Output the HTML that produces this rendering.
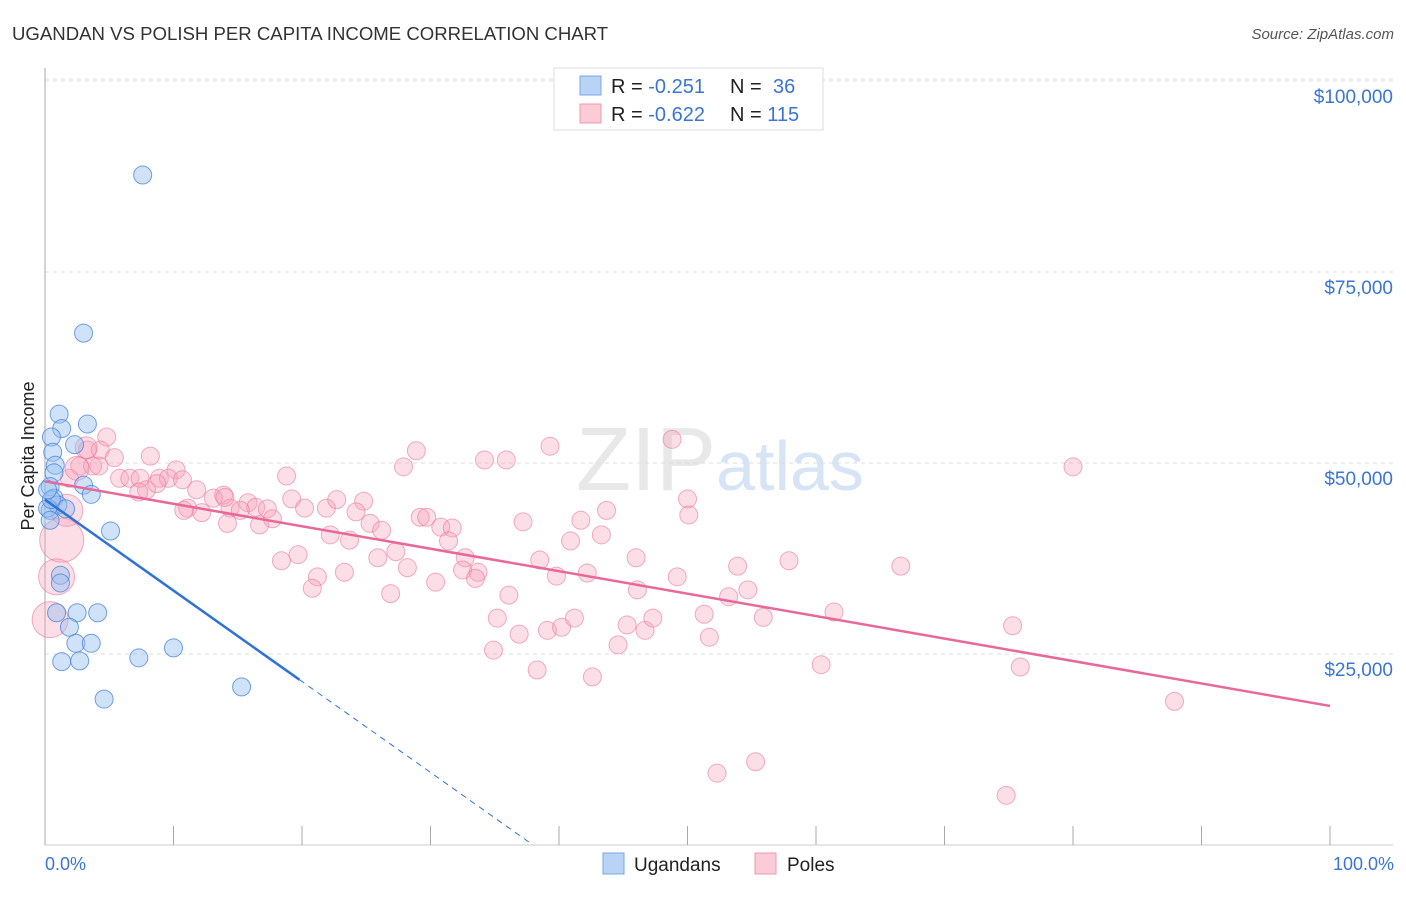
<!DOCTYPE html>
<html><head><meta charset="utf-8"><style>
body{margin:0;background:#fff;font-family:"Liberation Sans",sans-serif}
svg text{font-family:"Liberation Sans",sans-serif}
</style></head><body>
<svg id="chart" width="1406" height="892" xmlns="http://www.w3.org/2000/svg">
<text x="12" y="40" font-size="18.6" fill="#333">UGANDAN VS POLISH PER CAPITA INCOME CORRELATION CHART</text>
<text x="1394" y="39" font-size="15" fill="#555" font-style="italic" text-anchor="end">Source: ZipAtlas.com</text>
<text x="720" y="490" font-size="90" fill="#e8e8e8" text-anchor="middle" font-family="Liberation Serif">ZIP<tspan fill="#d6e4f5" font-family="Liberation Sans" font-size="70">atlas</tspan></text>
<g id="grid"></g><g id="marks"></g>
<text transform="translate(34,456) rotate(-90)" font-size="18" fill="#222" text-anchor="middle">Per Capita Income</text>
<text x="45" y="870" font-size="18" fill="#3a75d6">0.0%</text>
<text x="1394" y="870" font-size="18" fill="#3a75d6" text-anchor="end">100.0%</text>
<g>
<rect x="554" y="68" width="269" height="62" fill="#fff" stroke="#ddd"/>
<rect x="580" y="76" width="21" height="19" fill="#b8d3f5" stroke="#7aa7e6"/>
<rect x="580" y="104" width="21" height="19" fill="#fbcbd8" stroke="#ee9ab2"/>
<text x="611" y="93" font-size="20" fill="#222">R = <tspan fill="#3a75d6">-0.251</tspan><tspan x="730">N = </tspan><tspan fill="#3a75d6" x="773">36</tspan></text>
<text x="611" y="121" font-size="20" fill="#222">R = <tspan fill="#3a75d6">-0.622</tspan><tspan x="730">N = </tspan><tspan fill="#3a75d6">115</tspan></text>
</g>
<g>
<rect x="603" y="853" width="21" height="21" fill="#b8d3f5" stroke="#7aa7e6"/>
<text x="634" y="871" font-size="19" fill="#222">Ugandans</text>
<rect x="755" y="853" width="21" height="21" fill="#fbcbd8" stroke="#ee9ab2"/>
<text x="787" y="871" font-size="19" fill="#222">Poles</text>
</g>
</svg>
<script>
const yTicks=[25000,50000,75000,100000];
const yTickLabels=["$25,000","$50,000","$75,000","$100,000"];
const xTicks=[0,10,20,30,40,50,60,70,80,90,100];
const blueX=[7.6,3.0,1.1,3.3,1.3,0.5,2.3,0.6,0.8,0.7,3.0,3.6,0.4,0.7,1.0,0.4,1.6,5.1,1.2,1.2,0.9,2.5,4.1,1.9,2.4,3.6,1.3,2.7,7.3,10.0,4.6,15.3,0.2,0.4,0.5,0.2];
const blueY=[87.7,67.0,56.4,55.1,54.5,53.4,52.4,51.4,49.7,48.7,47.1,45.9,46.9,45.4,44.5,43.8,44.0,41.1,35.3,34.3,30.4,30.4,30.4,28.5,26.4,26.4,24.0,24.1,24.5,25.8,19.1,20.7,44.1,42.5,45.2,46.5];
const pinkX=[4.8,3.3,4.3,5.4,2.7,3.7,1.9,8.2,10.2,5.8,6.6,7.4,8.9,9.6,7.9,8.7,11.8,13.9,13.1,15.8,16.4,14.4,11.1,10.8,12.2,15.2,17.3,14.2,16.7,17.7,18.8,19.2,20.2,21.9,22.7,24.8,24.2,25.3,26.2,22.2,23.7,25.9,27.3,28.9,27.9,34.2,35.9,39.3,48.8,80.0,29.2,29.7,30.8,31.7,31.4,32.7,33.7,32.5,33.5,37.2,40.9,41.7,43.7,43.3,46.0,50.0,50.1,19.7,18.4,21.2,20.8,23.3,28.2,30.4,26.9,38.5,39.8,42.2,46.1,49.2,53.9,54.7,57.9,66.6,36.1,35.2,36.9,34.9,38.3,39.1,40.2,41.2,42.6,44.6,45.3,46.7,47.3,51.3,51.7,53.2,55.9,61.4,60.4,75.3,75.9,87.9,52.3,55.3,74.8,10.7,7.3,14.0,4.2,1.3,0.9,0.4,1.7,3.2,2.5];
const pinkY=[53.4,51.7,51.7,50.7,49.6,49.6,48.0,50.9,49.1,48.0,48.0,48.0,48.0,48.0,46.5,47.3,46.5,45.8,45.4,44.8,44.2,44.1,44.1,43.8,43.5,43.8,44.0,42.1,41.9,42.7,48.3,45.3,44.1,44.1,45.2,45.0,43.6,42.1,41.2,40.6,39.9,37.6,38.4,51.6,49.5,50.4,50.4,52.2,53.1,49.5,42.9,42.9,41.6,41.5,39.8,37.6,35.7,36.0,34.9,42.3,39.8,42.5,43.8,40.6,37.6,45.3,43.2,38.0,37.2,35.1,33.6,35.7,36.3,34.4,32.9,37.3,35.2,35.6,33.4,35.1,36.5,33.4,37.2,36.5,32.7,29.7,27.6,25.5,22.9,28.1,28.5,29.7,22.0,26.2,28.8,28.1,29.7,30.2,27.2,32.5,29.8,30.5,23.6,28.7,23.3,18.8,9.4,10.9,6.5,47.8,46.2,45.5,49.6,39.9,35.1,29.5,43.8,52.0,49.3];
const pinkR=pinkX.map((_,i)=>[22,18,18,16,11,12][i-(pinkX.length-6)]||9);
const blueTrend=[45.2,-1.19];
const pinkTrend=[47.6,-0.294];
const NS="http://www.w3.org/2000/svg";
const X=v=>45+v*12.85, Y=v=>845-v*0.00764;
function mk(p,t,a){const e=document.createElementNS(NS,t);for(const k in a)e.setAttribute(k,a[k]);p.appendChild(e);return e;}
const grid=document.getElementById('grid'),marks=document.getElementById('marks');
yTicks.forEach((t,i)=>{
 const l=mk(grid,'line',{x1:45,x2:1393,y1:Y(t),y2:Y(t),stroke:'#ddd','stroke-dasharray':'4,4'});
 
 
 const tx=mk(grid,'text',{x:1393,y:Y(t)+22,'font-size':19,fill:'#3a75d6','text-anchor':'end'});
 tx.textContent=yTickLabels[i];
 
 
});
const topLine=mk(grid,'line',{x1:45,x2:1393,y1:79,y2:79,stroke:'#ddd','stroke-dasharray':'4,4'});


const ax=mk(grid,'line',{x1:45,x2:45,y1:68,y2:845,stroke:'#aaa'});


const bx=mk(grid,'line',{x1:45,x2:1393,y1:845,y2:845,stroke:'#ccc'});


xTicks.forEach(t=>{const l=mk(grid,'line',{x1:X(t),x2:X(t),y1:826,y2:845,stroke:'#aaa'});
 
 });
pinkX.forEach((x,i)=>{const c=mk(marks,'circle',{cx:X(x),cy:Y(pinkY[i]*1000),r:pinkR[i],fill:'rgba(246,160,185,0.35)',stroke:'rgba(232,120,155,0.6)','stroke-width':1});
 
 });
blueX.forEach((x,i)=>{const c=mk(marks,'circle',{cx:X(x),cy:Y(blueY[i]*1000),r:9,fill:'rgba(150,190,240,0.45)',stroke:'rgba(70,130,220,0.75)','stroke-width':1});
 
 });
const pl=mk(marks,'line',{x1:X(0),y1:Y(pinkTrend[0]*1000),x2:X(100),y2:Y((pinkTrend[0]+pinkTrend[1]*100)*1000),stroke:'#e8689a','stroke-width':2.5});


const bEnd=19.8, bZero=-blueTrend[0]/blueTrend[1];
const bl=mk(marks,'line',{x1:X(0),y1:Y(blueTrend[0]*1000),x2:X(bEnd),y2:Y((blueTrend[0]+blueTrend[1]*bEnd)*1000),stroke:'#2f72d6','stroke-width':2.5});


const bd=mk(marks,'line',{x1:X(bEnd),y1:Y((blueTrend[0]+blueTrend[1]*bEnd)*1000),x2:X(bZero),y2:Y(0),stroke:'#2f72d6','stroke-width':1,'stroke-dasharray':'6,5'});


</script>
</body></html>
